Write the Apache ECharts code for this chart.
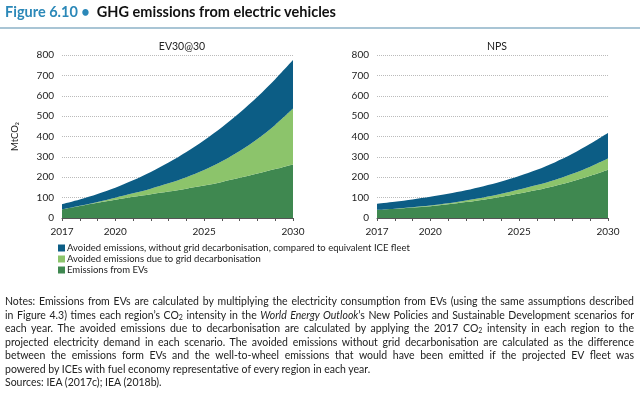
<!DOCTYPE html>
<html><head><meta charset="utf-8">
<script src="https://cdn.jsdelivr.net/npm/echarts@6/dist/echarts.min.js"></script>
<style>
html,body{margin:0;padding:0;background:#fff;}
#wrap{position:relative;width:640px;height:398px;overflow:hidden;font-family:Lato,"Open Sans",sans-serif;}
#chart{position:absolute;left:0;top:0;width:640px;height:398px;}
#title{position:absolute;left:5px;top:3px;font-size:14.5px;font-weight:bold;color:#111;white-space:nowrap;}
#title .fig{color:#2b88b8;}
#rule{position:absolute;left:0;top:27px;width:640px;height:2px;background:#a9c5d5;}
#notes{position:absolute;left:5px;top:295px;width:629px;font-size:10.5px;line-height:13.5px;color:#222;}
#notes .l{text-align:justify;text-align-last:justify;white-space:nowrap;}
#notes .last{text-align:left;text-align-last:left;}
sub{font-size:7px;vertical-align:-1px;line-height:0;}
</style></head>
<body><div id="wrap">
<div id="chart"></div>
<div id="title"><span class="fig">Figure 6.10 &bull;</span>&nbsp; GHG emissions from electric vehicles</div>
<div id="rule"></div>
<div id="notes">
<div class="l">Notes: Emissions from EVs are calculated by multiplying the electricity consumption from EVs (using the same assumptions described</div>
<div class="l">in Figure 4.3) times each region’s CO<sub>2</sub> intensity in the <i>World Energy Outlook</i>’s New Policies and Sustainable Development scenarios for</div>
<div class="l">each year. The avoided emissions due to decarbonisation are calculated by applying the 2017 CO<sub>2</sub> intensity in each region to the</div>
<div class="l">projected electricity demand in each scenario. The avoided emissions without grid decarbonisation are calculated as the difference</div>
<div class="l">between the emissions form EVs and the well-to-wheel emissions that would have been emitted if the projected EV fleet was</div>
<div class="l last">powered by ICEs with fuel economy representative of every region in each year.</div>
<div class="l last">Sources: IEA (2017c); IEA (2018b).</div>
</div>
</div>
<script>
const years = ['2017','2018','2019','2020','2021','2022','2023','2024','2025','2026','2027','2028','2029','2030'];
const shownYears = ['2017','2020','2025','2030'];
const panelTitles = ['EV30@30','NPS'];
const seriesNames = ['Avoided emissions, without grid decarbonisation, compared to equivalent ICE fleet','Avoided emissions due to grid decarbonisation','Emissions from EVs'];
// EV30@30 (MtCO2)
const ev_emissions = [42,59,75,90,104,117,130,144,159,177,197,218,240,263];
const ev_grid      = [0,1,4,10,17,27,40,56,76,101,132,170,217,274];
const ev_avoided   = [26,31,39,49,64,82,102,124,147,168,188,207,224,238];
// NPS (MtCO2)
const nps_emissions = [40,45,51,58,67,78,90,104,120,137,157,180,207,237];
const nps_grid      = [0,1,2,3,5,8,11,15,20,25,30,37,45,55];
const nps_avoided   = [30,34,38,43,47,50,55,60,66,75,86,98,112,125];
const yTicks = {min:0,max:800,interval:100};

const colors = {dark:'#3f8850', light:'#8cc46b', blue:'#0c5d85'};
const chart = echarts.init(document.getElementById('chart'));
const grids = [{left:62,top:55,width:231,height:163},{left:377,top:55,width:231,height:163}];
function xAxis(i){return {type:'category',gridIndex:i,data:years,boundaryGap:false,
  axisLine:{lineStyle:{color:'#555',width:1}},
  axisTick:{show:true,interval:0,length:3,lineStyle:{color:'#555'}},
  axisLabel:{interval:(idx,v)=>shownYears.includes(v),color:'#222',fontSize:10,fontFamily:'Lato',margin:9}};}
function yAxis(i){return {type:'value',gridIndex:i,min:yTicks.min,max:yTicks.max,interval:yTicks.interval,
  axisLine:{show:false},axisTick:{show:false},
  splitLine:{lineStyle:{color:'#bbb',type:[1,1],width:1}},
  axisLabel:{color:'#222',fontSize:10,fontFamily:'Lato',margin:8},
  name:i===0?'MtCO₂':'',nameLocation:'middle',nameGap:42,nameRotate:90,
  nameTextStyle:{color:'#222',fontSize:9.5,fontFamily:'Lato'}};}
function area(name,data,i,color,stack){return {name:name,type:'line',xAxisIndex:i,yAxisIndex:i,stack:stack,data:data,
  smooth:0.3,symbol:'none',lineStyle:{width:0},areaStyle:{color:color,opacity:1},itemStyle:{color:color}};}
chart.setOption({
  animation:false,
  grid:grids,
  xAxis:[xAxis(0),xAxis(1)],
  yAxis:[yAxis(0),yAxis(1)],
  title:[
    {text:panelTitles[0],left:177,top:36,textAlign:'center',textStyle:{fontSize:10.5,fontWeight:'normal',color:'#222',fontFamily:'Lato'}},
    {text:panelTitles[1],left:492,top:36,textAlign:'center',textStyle:{fontSize:10.5,fontWeight:'normal',color:'#222',fontFamily:'Lato'}}
  ],
  legend:{orient:'vertical',left:53,top:238,itemWidth:7,itemHeight:7,itemGap:1,icon:'rect',
    textStyle:{fontSize:9.5,color:'#222',fontFamily:'Lato',padding:[0,0,0,-3]},
    data:seriesNames},
  series:[
    area(seriesNames[2],ev_emissions,0,colors.dark,'a'),
    area(seriesNames[1],ev_grid,0,colors.light,'a'),
    area(seriesNames[0],ev_avoided,0,colors.blue,'a'),
    area(seriesNames[2],nps_emissions,1,colors.dark,'b'),
    area(seriesNames[1],nps_grid,1,colors.light,'b'),
    area(seriesNames[0],nps_avoided,1,colors.blue,'b')
  ]
});
</script>
</body></html>
